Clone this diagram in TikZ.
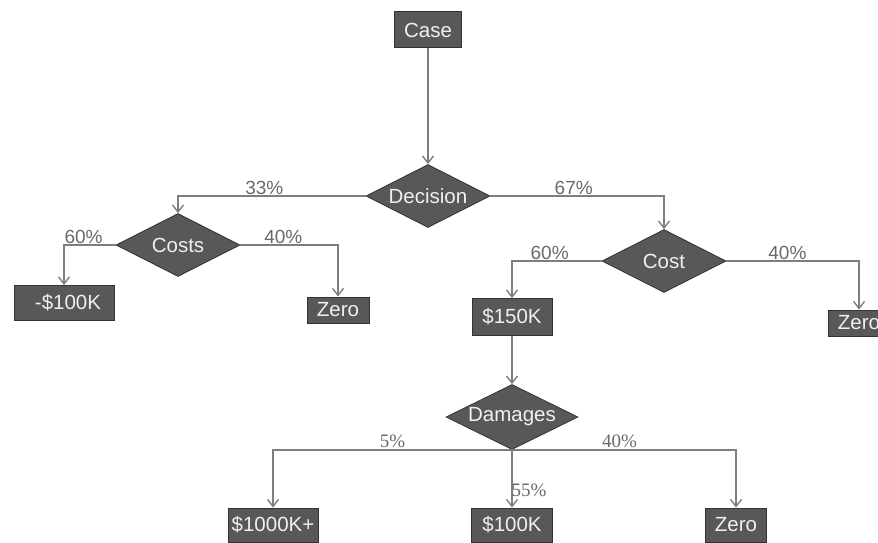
\documentclass[tikz,border=0pt]{standalone}
\usepackage{fontspec}
\setmainfont{Liberation Sans}
\newfontfamily\pctserif{Liberation Serif}
\usetikzlibrary{shapes.geometric,arrows.meta}
\definecolor{boxfill}{HTML}{585858}
\definecolor{linkgray}{HTML}{7E7E7E}
\definecolor{pctgray}{HTML}{6A6A6A}
\begin{document}
\begin{tikzpicture}[x=1pt,y=-1pt,
    leaf/.style={draw=black!80,line width=1pt,fill=boxfill,text=white!94!black,
        font=\fontsize{20.5}{24}\selectfont,inner sep=0pt,minimum height=34pt},
    choice/.style={diamond,draw=black!80,line width=0.8pt,fill=boxfill,text=white!94!black,
        font=\fontsize{20.5}{24}\selectfont,inner sep=0pt,aspect=2,minimum width=124pt,minimum height=63pt},
    link/.style={draw=linkgray,line width=1.4pt,-{Straight Barb[length=7pt,width=11pt]}},
    pct/.style={text=pctgray,font=\fontsize{19}{22}\selectfont,inner sep=1pt,above},
    pcts/.style={text=pctgray,font=\pctserif\fontsize{19}{22}\selectfont,inner sep=1pt,above}]
    \useasboundingbox (0,0) rectangle (878,543);
    \fill[white] (0,0) rectangle (878,543);
    % nodes
    \node[leaf,minimum width=67pt,minimum height=36pt] (case) at (428,30) {Case};
    \node[choice] (decision) at (428,196) {Decision};
    \node[choice] (costs) at (178,245) {Costs};
    \node[choice] (cost) at (664,261) {Cost};
    \node[leaf,minimum width=100pt,minimum height=35pt] (neg100) at (64,303) {\hspace{8pt}-\$100K};
    \node[leaf,minimum width=62pt,minimum height=26pt] (zeroa) at (338,310) {Zero};
    \node[leaf,minimum width=80pt,minimum height=37pt] (k150) at (512,317) {\$150K};
    \node[leaf,minimum width=62pt,minimum height=26pt] (zerob) at (859,323) {Zero};
    \node[choice,minimum width=132pt,minimum height=65pt] (damages) at (512,417) {Damages};
    \node[leaf,minimum width=90pt] (k1000) at (273,525) {\$1000K+};
    \node[leaf,minimum width=81pt] (k100) at (512,525) {\$100K};
    \node[leaf,minimum width=61pt] (zeroc) at (736,525) {Zero};
    % connectors
    \draw[link] (case) -- (decision.north);
    \draw[link] (decision.west) -| node[pct,pos=0.27] (p33) {33\%} (costs.north);
    \draw[link] (decision.east) -| node[pct,pos=0.24] (p67) {67\%} (cost.north);
    \draw[link] (costs.west) -| node[pct,pos=0.31] (p60a) {60\%} (neg100.north);
    \draw[link] (costs.east) -| node[pct,pos=0.22] (p40a) {40\%} (zeroa.north);
    \draw[link] (cost.west) -| node[pct,pos=0.29] (p60b) {60\%} (k150.north);
    \draw[link] (cost.east) -| node[pct,pos=0.23] (p40b) {40\%} (zerob.north);
    \draw[link] (k150) -- (damages.north);
    \draw[link] (damages.south) -| node[pcts,pos=0.25] (p5) {5\%} (k1000.north);
    \draw[link] (damages.south) -- node[pcts,pos=0.84,xshift=17pt] (p55) {55\%} (k100.north);
    \draw[link] (damages.south) -| node[pcts,pos=0.24] (p40c) {40\%} (zeroc.north);
\end{tikzpicture}
\end{document}
